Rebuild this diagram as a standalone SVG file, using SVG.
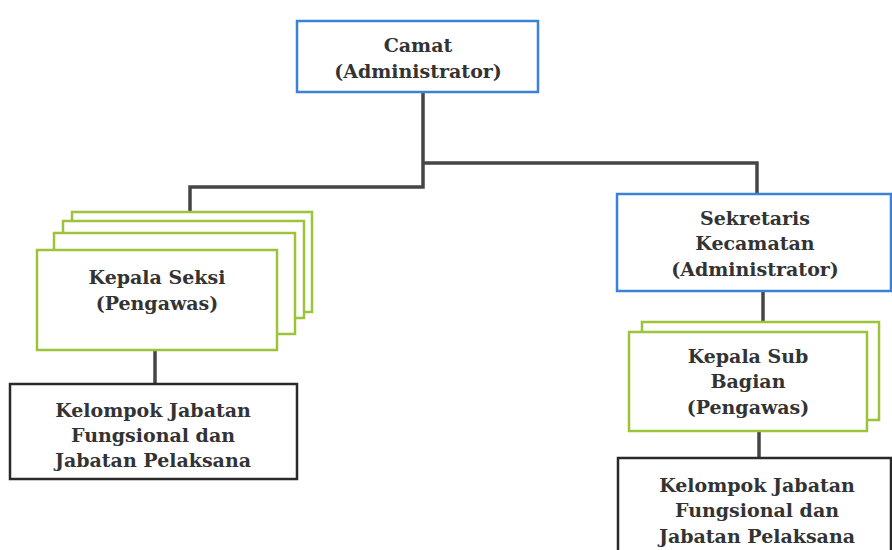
<svg xmlns="http://www.w3.org/2000/svg" width="892" height="550" viewBox="0 0 892 550">
  <style>
    .lbl { font-family: "DejaVu Serif", "Liberation Serif", serif; font-weight: bold; font-size: 19px; fill: #333; text-anchor: middle; }
    .blue { fill: #fff; stroke: #3b82d6; stroke-width: 2.5; }
    .green { fill: #fff; stroke: #9cc43a; stroke-width: 2.5; }
    .black { fill: #fff; stroke: #2a2a2a; stroke-width: 2.5; }
    .wire { fill: none; stroke: #454545; stroke-width: 3.5; }
  </style>
  <rect width="892" height="550" fill="#fff"/>

  <!-- connectors -->
  <g id="connectors">
    <polyline class="wire" points="423,92 423,187 190,187 190,212"/>
    <polyline class="wire" points="423,163 757,163 757,194"/>
    <line class="wire" x1="155" y1="350" x2="155" y2="384"/>
    <line class="wire" x1="763" y1="291" x2="763" y2="322"/>
    <line class="wire" x1="759" y1="431" x2="759" y2="458"/>
  </g>

  <g id="camat">
    <rect class="blue" x="297" y="21" width="241" height="71"/>
    <text class="lbl" x="418" y="52">Camat</text>
    <text class="lbl" x="418" y="78">(Administrator)</text>
  </g>

  <g id="kepala-seksi">
    <rect class="green" x="72" y="212" width="240" height="100"/>
    <rect class="green" x="63" y="221" width="241" height="97"/>
    <rect class="green" x="54" y="233" width="241" height="101"/>
    <rect class="green" x="37" y="250" width="240" height="100"/>
    <text class="lbl" x="157" y="284">Kepala Seksi</text>
    <text class="lbl" x="157" y="310">(Pengawas)</text>
  </g>

  <g id="kelompok-kiri">
    <rect class="black" x="10" y="384" width="287" height="95"/>
    <text class="lbl" x="153" y="417">Kelompok Jabatan</text>
    <text class="lbl" x="153" y="442">Fungsional dan</text>
    <text class="lbl" x="153" y="467">Jabatan Pelaksana</text>
  </g>

  <g id="sekretaris">
    <rect class="blue" x="617" y="194" width="274" height="97"/>
    <text class="lbl" x="755" y="225">Sekretaris</text>
    <text class="lbl" x="755" y="250">Kecamatan</text>
    <text class="lbl" x="755" y="276">(Administrator)</text>
  </g>

  <g id="kepala-sub-bagian">
    <rect class="green" x="642" y="322" width="237" height="98"/>
    <rect class="green" x="629" y="332" width="238" height="99"/>
    <text class="lbl" x="748" y="363">Kepala Sub</text>
    <text class="lbl" x="748" y="388">Bagian</text>
    <text class="lbl" x="748" y="414">(Pengawas)</text>
  </g>

  <g id="kelompok-kanan">
    <rect class="black" x="618" y="458" width="273" height="100"/>
    <text class="lbl" x="757" y="492">Kelompok Jabatan</text>
    <text class="lbl" x="757" y="517">Fungsional dan</text>
    <text class="lbl" x="757" y="543">Jabatan Pelaksana</text>
  </g>
</svg>
